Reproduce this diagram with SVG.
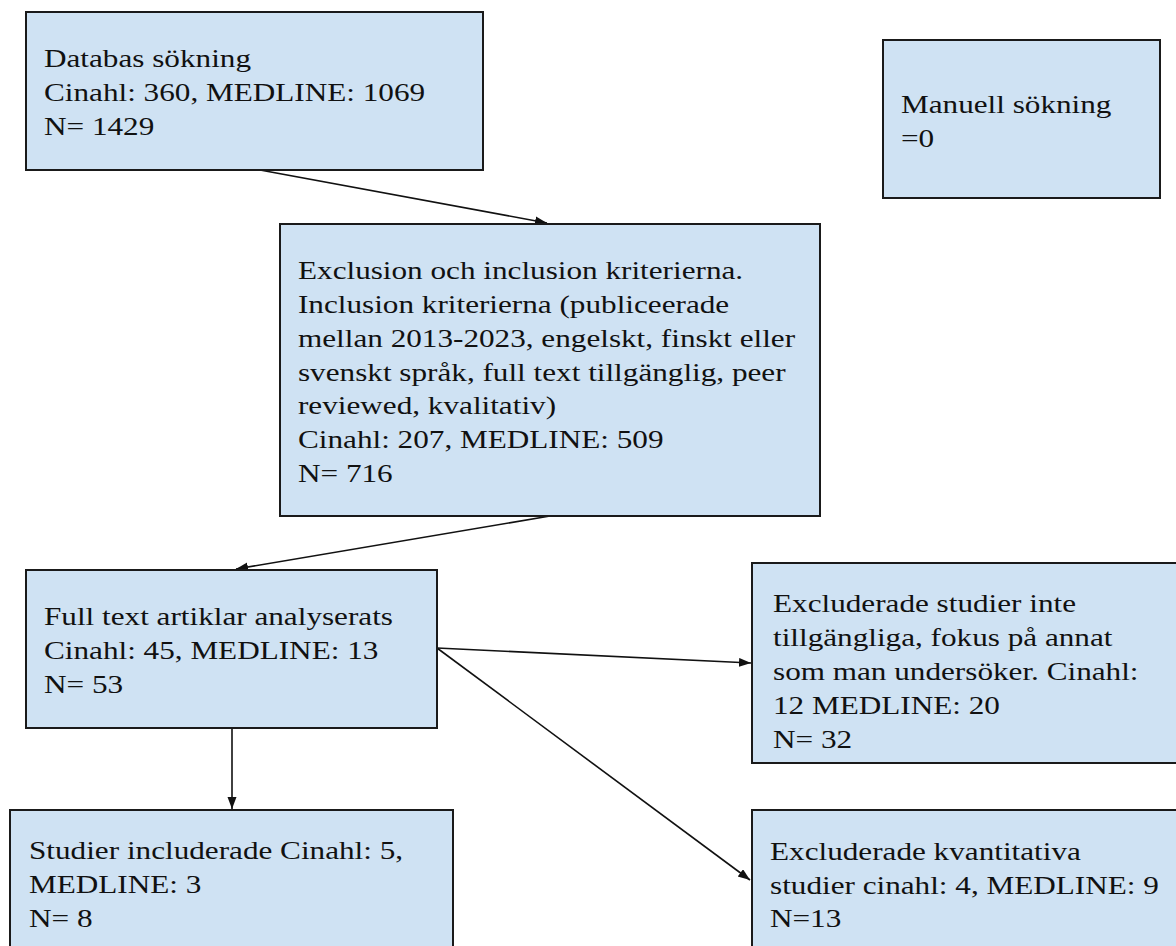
<svg xmlns="http://www.w3.org/2000/svg" width="1176" height="946" viewBox="0 0 1176 946">
<style>
.box{fill:#cfe2f3;stroke:#1a1a1a;stroke-width:2}
.t{font-family:"Liberation Serif","Times New Roman",serif;font-size:26px;fill:#111}
.c{stroke:#111;stroke-width:1.6;fill:none;marker-end:url(#ah)}
</style>
<defs>
<marker id="ah" markerUnits="userSpaceOnUse" markerWidth="13" markerHeight="10" refX="12" refY="4.5" orient="auto">
<path d="M0,0 L12,4.5 L0,9 z" fill="#111"/>
</marker>
</defs>
<rect width="1176" height="946" fill="#fff"/>
<g id="connectors">
<line class="c" x1="260" y1="170" x2="547" y2="223"/>
<line class="c" x1="550" y1="516" x2="236" y2="569"/>
<line class="c" x1="437" y1="648" x2="751" y2="663"/>
<line class="c" x1="437" y1="648" x2="750" y2="880"/>
<line class="c" x1="232" y1="728" x2="232" y2="809"/>
</g>
<g id="n1">
<rect class="box" x="26" y="12" width="457" height="158"/>
<g transform="matrix(1.2 0 0 1 -8.8 0)">
<text class="t" x="44" y="67">Databas sökning</text>
<text class="t" x="44" y="101">Cinahl: 360, MEDLINE: 1069</text>
<text class="t" x="44" y="135">N= 1429</text>
</g>
</g>
<g id="n2">
<rect class="box" x="883" y="40" width="277" height="158"/>
<g transform="matrix(1.2 0 0 1 -180.2 0)">
<text class="t" x="901" y="113">Manuell sökning</text>
<text class="t" x="901" y="147">=0</text>
</g>
</g>
<g id="n3">
<rect class="box" x="280" y="224" width="540" height="292"/>
<g transform="matrix(1.2 0 0 1 -59.6 0)">
<text class="t" x="298" y="279">Exclusion och inclusion kriterierna.</text>
<text class="t" x="298" y="313">Inclusion kriterierna (publiceerade</text>
<text class="t" x="298" y="347">mellan 2013-2023, engelskt, finskt eller</text>
<text class="t" x="298" y="381">svenskt språk, full text tillgänglig, peer</text>
<text class="t" x="298" y="414">reviewed, kvalitativ)</text>
<text class="t" x="298" y="448">Cinahl: 207, MEDLINE: 509</text>
<text class="t" x="298" y="482">N= 716</text>
</g>
</g>
<g id="n4">
<rect class="box" x="26" y="570" width="411" height="158"/>
<g transform="matrix(1.2 0 0 1 -8.8 0)">
<text class="t" x="44" y="625">Full text artiklar analyserats</text>
<text class="t" x="44" y="659">Cinahl: 45, MEDLINE: 13</text>
<text class="t" x="44" y="693">N= 53</text>
</g>
</g>
<g id="n5">
<rect class="box" x="752" y="563" width="430" height="200"/>
<g transform="matrix(1.2 0 0 1 -154.6 0)">
<text class="t" x="773" y="612">Excluderade studier inte</text>
<text class="t" x="773" y="646">tillgängliga, fokus på annat</text>
<text class="t" x="773" y="680">som man undersöker. Cinahl:</text>
<text class="t" x="773" y="714">12 MEDLINE: 20</text>
<text class="t" x="773" y="748">N= 32</text>
</g>
</g>
<g id="n6">
<rect class="box" x="10" y="810" width="443" height="150"/>
<g transform="matrix(1.2 0 0 1 -5.8 0)">
<text class="t" x="29" y="859">Studier includerade Cinahl: 5,</text>
<text class="t" x="29" y="893">MEDLINE: 3</text>
<text class="t" x="29" y="927">N= 8</text>
</g>
</g>
<g id="n7">
<rect class="box" x="752" y="810" width="430" height="150"/>
<g transform="matrix(1.2 0 0 1 -154 0)">
<text class="t" x="770" y="860">Excluderade kvantitativa</text>
<text class="t" x="770" y="894">studier cinahl: 4, MEDLINE: 9</text>
<text class="t" x="770" y="927">N=13</text>
</g>
</g>
</svg>
